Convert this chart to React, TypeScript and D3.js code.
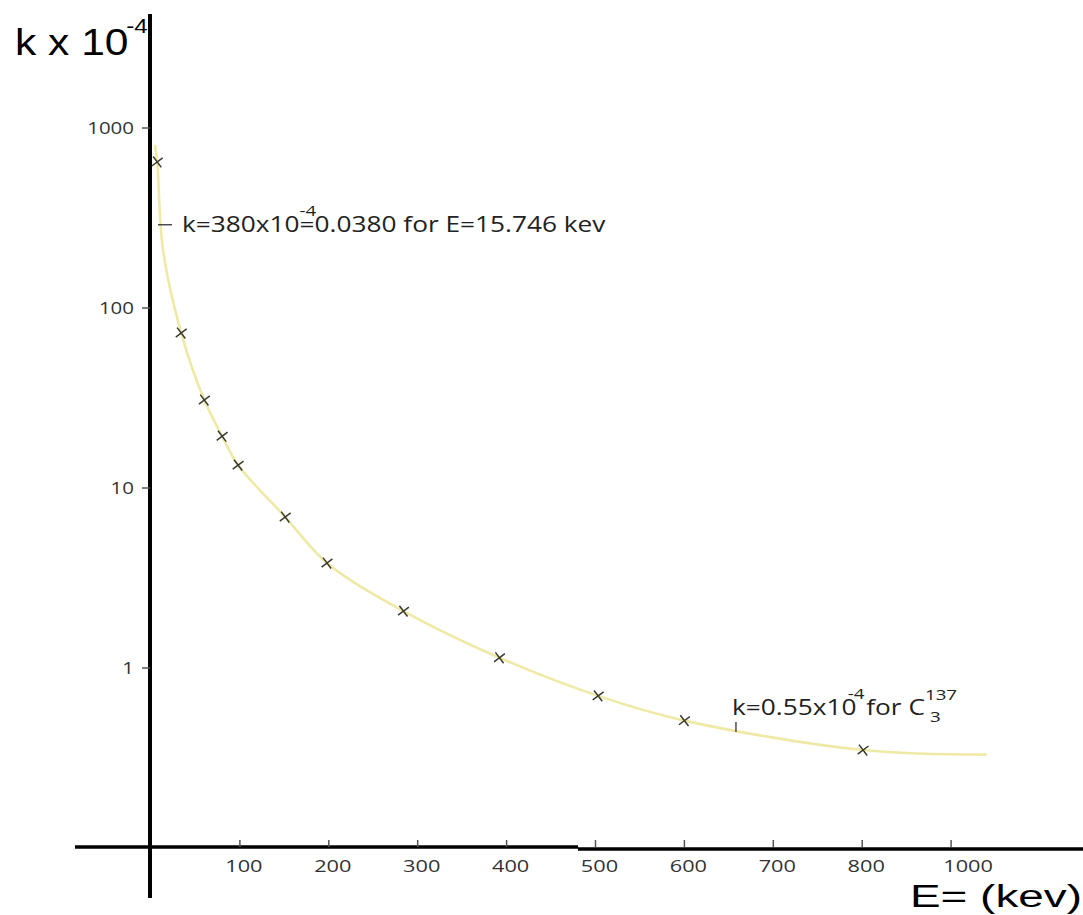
import { useEffect, useRef } from 'react';
import * as d3 from 'd3';

// measured points (E in keV, k in units of 1e-4)
const energies = [7, 34, 60, 80, 98, 151, 198, 284, 392, 503, 600, 801];
const kValues = [648, 72.6, 30.8, 19.4, 13.4, 6.9, 3.83, 2.07, 1.14, 0.7, 0.51, 0.35];

// the hand-drawn fitted curve
const curveE = [4.5, 7, 13.5, 34, 60, 80, 98, 151, 198, 284, 392, 503, 600, 801, 940];
const curveK = [805, 648, 210, 72.6, 30.8, 19.4, 13.4, 6.9, 3.83, 2.07, 1.14, 0.7, 0.51, 0.35, 0.33];

const xTicks = [100, 200, 300, 400, 500, 600, 700, 800, 900];
const xTickLabels = ['100', '200', '300', '400', '500', '600', '700', '800', '1000'];
const yTicks = [1, 10, 100, 1000];
const yTickLabels = ['1', '10', '100', '1000'];

const WIDTH = 1083;
const HEIGHT = 915;
const SX = 1.28; // the original picture is stretched sideways

function App() {
  const svgRef = useRef<SVGSVGElement>(null);

  useEffect(() => {
    drawChart();
  }, []);

  const drawChart = () => {
    const svg = d3.select(svgRef.current);
    svg.selectAll('*').remove();

    const x = d3.scaleLinear().domain([0, 1000]).range([151, 1040]);
    const y = d3.scaleLog().domain([1, 1000]).range([668, 128]);

    // stretched text helper
    const stext = (px: number, py: number, opts: any = {}) =>
      svg.append('text')
        .attr('transform', `translate(${px},${py}) scale(${opts.sx ?? SX},1)`)
        .attr('font-family', opts.family ?? "'Open Sans', sans-serif")
        .attr('font-size', opts.size ?? 16)
        .attr('fill', opts.fill ?? '#222')
        .attr('text-anchor', opts.anchor ?? 'start');

    // fitted curve
    const line = d3.line<[number, number]>()
      .x(d => x(d[0]))
      .y(d => y(d[1]))
      .curve(d3.curveCatmullRom.alpha(0.5));
    svg.append('path')
      .attr('d', line(curveE.map((e, i) => [e, curveK[i]]) as [number, number][]))
      .attr('fill', 'none')
      .attr('stroke', '#efe9a6')
      .attr('stroke-width', 2.6);

    // axes
    svg.append('line')
      .attr('x1', 150).attr('x2', 150).attr('y1', 14).attr('y2', 898)
      .attr('stroke', '#000').attr('stroke-width', 4);
    svg.append('line')
      .attr('x1', 75).attr('x2', 578).attr('y1', 847).attr('y2', 847)
      .attr('stroke', '#000').attr('stroke-width', 3.5);
    svg.append('line')
      .attr('x1', 578).attr('x2', WIDTH).attr('y1', 849).attr('y2', 849)
      .attr('stroke', '#000').attr('stroke-width', 3.5);

    // y ticks
    yTicks.forEach((v, i) => {
      svg.append('line')
        .attr('x1', 142).attr('x2', 150).attr('y1', y(v)).attr('y2', y(v))
        .attr('stroke', '#555').attr('stroke-width', 1.5);
      stext(134, y(v) + 6, { anchor: 'end', size: 16, fill: '#333' }).text(yTickLabels[i]);
    });

    // x ticks
    xTicks.forEach((v, i) => {
      svg.append('line')
        .attr('x1', x(v)).attr('x2', x(v)).attr('y1', 840).attr('y2', 847)
        .attr('stroke', '#555').attr('stroke-width', 1.5);
      const off = xTickLabels[i].length > 3 ? 17 : 4;
      stext(x(v) + off, 872, { anchor: 'middle', size: 17, fill: '#333' }).text(xTickLabels[i]);
    });

    // markers
    const sym = d3.symbol().type(d3.symbolTimes).size(62);
    energies.forEach((e, i) => {
      svg.append('path')
        .attr('d', sym()!)
        .attr('transform', `translate(${x(e)},${y(kValues[i])}) rotate(8)`)
        .attr('fill', 'none')
        .attr('stroke', '#3b3b30')
        .attr('stroke-width', 1.5);
    });

    // annotation: E = 15.746 keV
    const a1x = x(15.746);
    const a1y = y(290);
    svg.append('line')
      .attr('x1', a1x - 7).attr('x2', a1x + 7).attr('y1', a1y).attr('y2', a1y)
      .attr('stroke', '#333').attr('stroke-width', 1.3);
    const t1 = stext(a1x + 17, a1y + 7, { size: 21, sx: 1.25 });
    t1.append('tspan').text('k=380x10');
    t1.append('tspan').attr('font-size', 15).attr('dy', -16).text('-4');
    t1.append('tspan').attr('dx', -13.4).attr('dy', 16).text('=0.0380 for E=15.746 kev');

    // annotation: Cs-137
    const a2x = x(658);
    const a2y = y(0.47);
    svg.append('line')
      .attr('x1', a2x).attr('x2', a2x).attr('y1', a2y - 5).attr('y2', a2y + 5)
      .attr('stroke', '#333').attr('stroke-width', 1.3);
    const t2 = stext(a2x - 4, a2y - 12, { size: 21, sx: 1.25 });
    t2.append('tspan').text('k=0.55x10');
    t2.append('tspan').attr('font-size', 15).attr('dx', -7).attr('dy', -16).text('-4');
    t2.append('tspan').attr('dx', -4).attr('dy', 16).text(' for C');
    t2.append('tspan').attr('font-size', 15).attr('dy', -15).text('137');
    t2.append('tspan').attr('font-size', 15).attr('dx', -21.7).attr('dy', 22).text('3');

    // axis titles
    const tt = stext(15, 55, { family: "'Liberation Sans', Arial, sans-serif", size: 37, sx: 1.15, fill: '#000' });
    tt.append('tspan').text('k x 10');
    tt.append('tspan').attr('font-size', 21).attr('dx', -2).attr('dy', -22).text('-4');
    stext(910, 907, { family: "'Liberation Sans', Arial, sans-serif", size: 31, sx: 1.48, fill: '#000' })
      .text('E= (kev)');
  };

  return (
    <div style={{ position: 'absolute', left: 0, top: 0, background: '#fff' }}>
      <svg ref={svgRef} width={WIDTH} height={HEIGHT}></svg>
    </div>
  );
}

export default App;
